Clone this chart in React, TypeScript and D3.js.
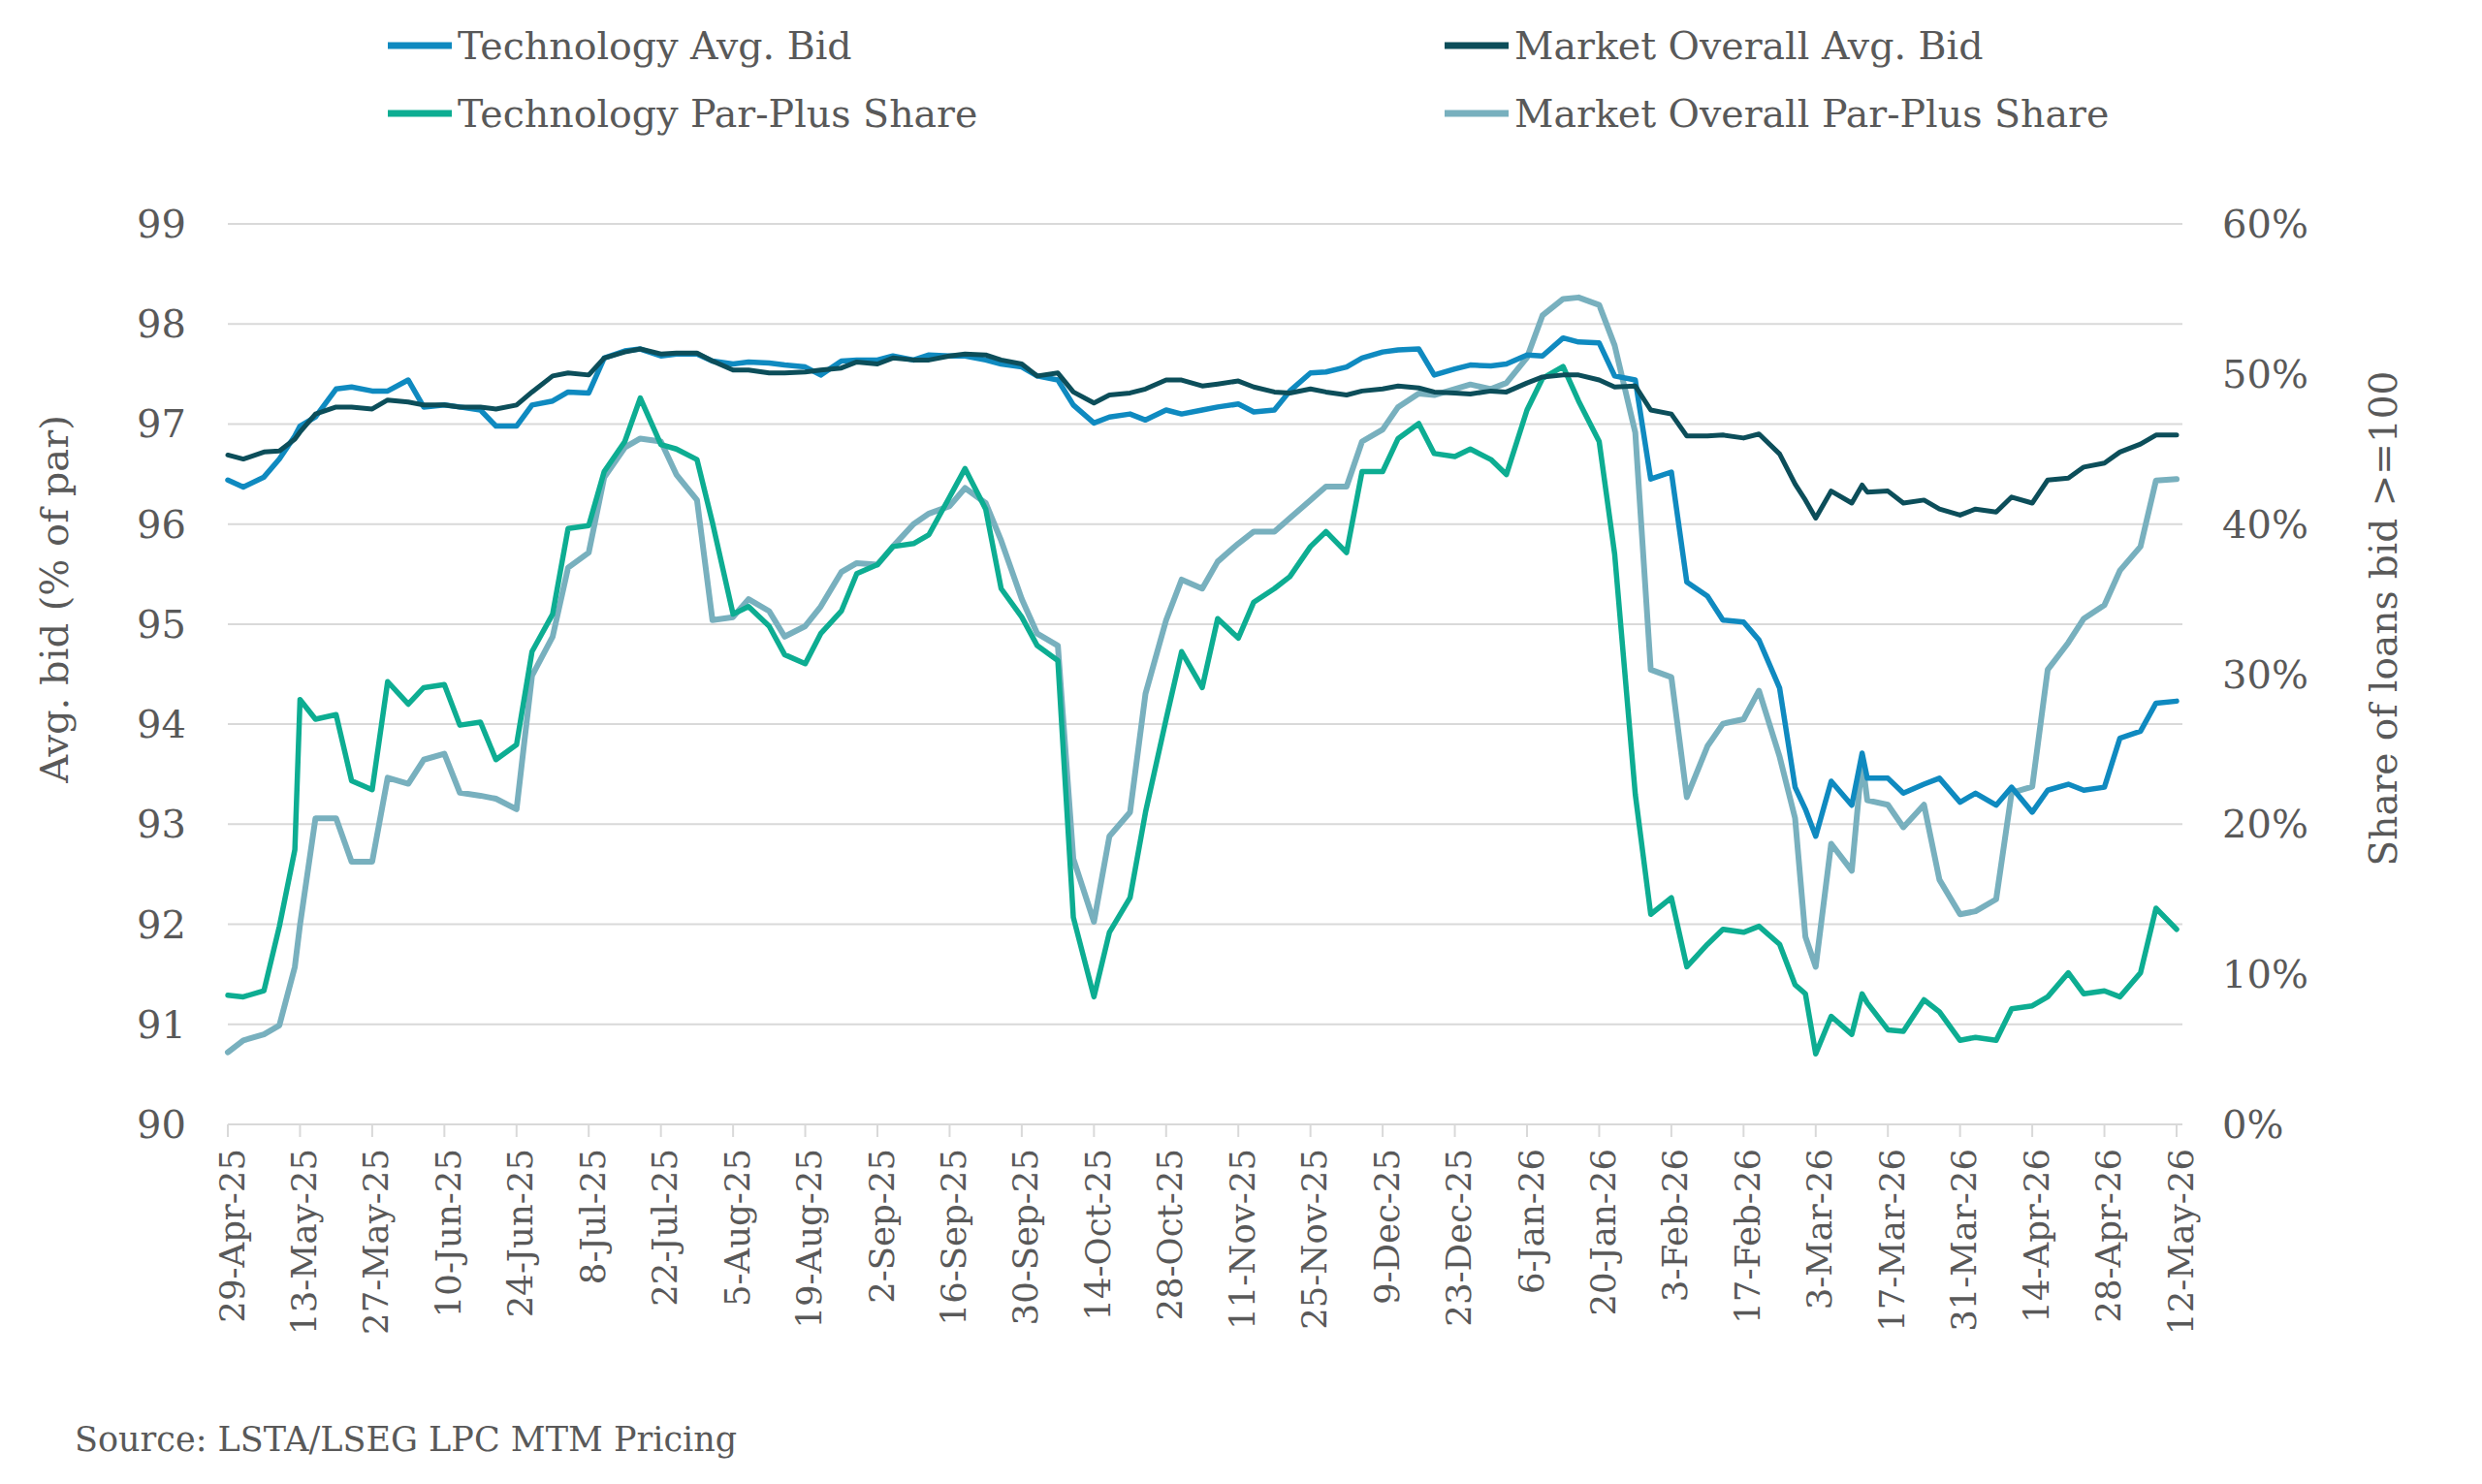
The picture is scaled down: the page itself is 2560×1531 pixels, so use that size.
import React from "react";
import * as d3 from "d3";

// day offsets from 29-Apr-25 for every sampled observation
const days = [
  0, 3, 7, 10, 13, 14, 17, 21, 24, 28, 31, 35, 38, 42, 45, 49, 52, 56, 59, 63,
  66, 70, 73, 77, 80, 84, 87, 91, 94, 98, 101, 105, 108, 112, 115, 119, 122, 126,
  129, 133, 136, 140, 143, 147, 150, 154, 157, 161, 164, 168, 171, 175, 178, 182,
  185, 189, 192, 196, 199, 203, 206, 210, 213, 217, 220, 224, 227, 231, 234, 238,
  241, 245, 248, 252, 255, 259, 262, 266, 269, 273, 276, 280, 283, 287, 290, 294,
  297, 301, 304, 306, 308, 311, 315, 317, 318, 322, 325, 329, 332, 336, 339, 343,
  346, 350, 353, 357, 360, 364, 367, 371, 374, 378,
];

// Avg. bid, % of par (left axis)
const techBid = [
  96.44, 96.37, 96.47, 96.65, 96.88, 96.98, 97.07, 97.35, 97.37, 97.33, 97.33, 97.44, 97.17, 97.19, 97.17, 97.14, 96.98, 96.98, 97.19, 97.23,
  97.32, 97.31, 97.66, 97.73, 97.75, 97.68, 97.7, 97.7, 97.63, 97.6, 97.62, 97.61, 97.59, 97.57, 97.49, 97.63, 97.64, 97.64,
  97.68, 97.64, 97.69, 97.68, 97.68, 97.64, 97.6, 97.57, 97.48, 97.44, 97.19, 97.01, 97.07, 97.1, 97.04, 97.14,
  97.1, 97.14, 97.17, 97.2, 97.12, 97.14, 97.33, 97.51, 97.52, 97.57, 97.66, 97.72, 97.74, 97.75, 97.49, 97.55,
  97.59, 97.58, 97.6, 97.69, 97.68, 97.86, 97.82, 97.81, 97.48, 97.44, 96.45, 96.52, 95.42, 95.28, 95.04, 95.02,
  94.84, 94.36, 93.37, 93.15, 92.88, 93.43, 93.19, 93.71, 93.46, 93.46, 93.31, 93.4, 93.46, 93.22, 93.31, 93.19,
  93.37, 93.12, 93.34, 93.4, 93.34, 93.37, 93.86, 93.93, 94.21, 94.23,
];

const marketBid = [
  96.69, 96.65, 96.72, 96.73, 96.85, 96.92, 97.1, 97.17, 97.17, 97.15, 97.24, 97.22, 97.19, 97.19, 97.17, 97.17, 97.15, 97.19, 97.32, 97.48,
  97.51, 97.49, 97.66, 97.72, 97.75, 97.7, 97.71, 97.71, 97.63, 97.54, 97.54, 97.51, 97.51, 97.52, 97.54, 97.56, 97.62, 97.6,
  97.66, 97.64, 97.64, 97.68, 97.7, 97.69, 97.64, 97.6, 97.48, 97.51, 97.32, 97.21, 97.29, 97.31, 97.35, 97.44,
  97.44, 97.38, 97.4, 97.43, 97.37, 97.32, 97.31, 97.35, 97.32, 97.29, 97.33, 97.35, 97.38, 97.36, 97.32, 97.31,
  97.3, 97.33, 97.32, 97.41, 97.47, 97.49, 97.49, 97.44, 97.37, 97.38, 97.14, 97.1, 96.88, 96.88, 96.89, 96.86,
  96.9, 96.7, 96.4, 96.24, 96.06, 96.33, 96.21, 96.39, 96.32, 96.33, 96.21, 96.24, 96.15, 96.09, 96.15, 96.12,
  96.27, 96.21, 96.44, 96.46, 96.57, 96.61, 96.72, 96.8, 96.89, 96.89,
];

// Share of loans bid >= 100, % (right axis)
const techShare = [
  8.6, 8.5, 8.9, 13.2, 18.3, 28.3, 27.0, 27.3, 22.9, 22.3, 29.5, 28.0, 29.1, 29.3, 26.6, 26.8, 24.3, 25.3, 31.5, 34.0,
  39.7, 39.9, 43.5, 45.5, 48.4, 45.3, 45.0, 44.3, 40.1, 34.0, 34.5, 33.2, 31.3, 30.7, 32.7, 34.2, 36.7, 37.3,
  38.5, 38.7, 39.3, 41.8, 43.7, 41.0, 35.7, 33.8, 31.9, 30.9, 13.8, 8.5, 12.8, 15.1, 20.8, 27.0,
  31.5, 29.1, 33.7, 32.4, 34.8, 35.7, 36.5, 38.5, 39.5, 38.1, 43.5, 43.5, 45.7, 46.7, 44.7, 44.5,
  45.0, 44.3, 43.3, 47.6, 49.7, 50.5, 48.2, 45.5, 38.0, 22.0, 14.0, 15.1, 10.5, 12.0, 13.0, 12.8,
  13.2, 12.0, 9.3, 8.7, 4.7, 7.2, 6.0, 8.7, 8.1, 6.3, 6.2, 8.3, 7.5, 5.6, 5.8, 5.6,
  7.7, 7.9, 8.5, 10.1, 8.7, 8.9, 8.5, 10.1, 14.4, 13.0,
];

const marketShare = [
  4.8, 5.6, 6.0, 6.6, 10.5, 13.3, 20.4, 20.4, 17.5, 17.5, 23.1, 22.7, 24.3, 24.7, 22.1, 21.9, 21.7, 21.0, 29.9, 32.5,
  37.1, 38.1, 43.1, 45.1, 45.7, 45.5, 43.3, 41.6, 33.6, 33.8, 35.0, 34.2, 32.5, 33.2, 34.5, 36.8, 37.4, 37.3,
  38.5, 40.0, 40.7, 41.2, 42.4, 41.4, 38.9, 35.0, 32.7, 31.9, 17.7, 13.5, 19.2, 20.8, 28.7, 33.6,
  36.3, 35.7, 37.5, 38.7, 39.5, 39.5, 40.4, 41.6, 42.5, 42.5, 45.5, 46.3, 47.8, 48.7, 48.6, 49.0,
  49.3, 49.0, 49.4, 51.1, 53.9, 55.0, 55.1, 54.6, 51.9, 46.1, 30.3, 29.8, 21.8, 25.2, 26.7, 27.0,
  28.9, 24.5, 20.4, 12.5, 10.5, 18.7, 16.9, 24.3, 21.6, 21.3, 19.8, 21.3, 16.3, 14.0, 14.2, 15.0,
  22.1, 22.5, 30.3, 32.1, 33.7, 34.6, 36.9, 38.5, 42.9, 43.0,
];

const dateTicks = [
  "29-Apr-25", "13-May-25", "27-May-25", "10-Jun-25", "24-Jun-25", "8-Jul-25", "22-Jul-25",
  "5-Aug-25", "19-Aug-25", "2-Sep-25", "16-Sep-25", "30-Sep-25", "14-Oct-25", "28-Oct-25",
  "11-Nov-25", "25-Nov-25", "9-Dec-25", "23-Dec-25", "6-Jan-26", "20-Jan-26", "3-Feb-26",
  "17-Feb-26", "3-Mar-26", "17-Mar-26", "31-Mar-26", "14-Apr-26", "28-Apr-26", "12-May-26",
];
const bidTicks = [90, 91, 92, 93, 94, 95, 96, 97, 98, 99];
const shareTicks = [0, 10, 20, 30, 40, 50, 60];

const W = 2560;
const H = 1531;
const left = 235;
const right = 2245;
const gridRight = 2251;
const top = 231;
const bottom = 1160;
const FONT = "'DejaVu Serif', Georgia, serif";
const TXT = "#595959";

const parse = d3.timeParse("%d-%b-%y");
const start = parse(dateTicks[0]) as Date;
const end = parse(dateTicks[dateTicks.length - 1]) as Date;
const dates = days.map((d) => d3.timeDay.offset(start, d));

const x = d3.scaleTime().domain([start, end]).range([left, right]);
const yL = d3.scaleLinear().domain([90, 99]).range([bottom, top]);
const yR = d3.scaleLinear().domain([0, 60]).range([bottom, top]);

const series = [
  { name: "Market Overall Par-Plus Share", values: marketShare, y: yR, color: "#78B0BE", w: 6 },
  { name: "Technology Par-Plus Share", values: techShare, y: yR, color: "#0DAD92", w: 5.5 },
  { name: "Technology Avg. Bid", values: techBid, y: yL, color: "#0F8AC0", w: 5.5 },
  { name: "Market Overall Avg. Bid", values: marketBid, y: yL, color: "#0C4E5A", w: 5 },
];

const legendItems = [
  { name: "Technology Avg. Bid", color: "#0F8AC0", lx: 400, ly: 47 },
  { name: "Market Overall Avg. Bid", color: "#0C4E5A", lx: 1490, ly: 47 },
  { name: "Technology Par-Plus Share", color: "#0DAD92", lx: 400, ly: 117 },
  { name: "Market Overall Par-Plus Share", color: "#78B0BE", lx: 1490, ly: 117 },
];

export default function App() {
  const path = (vals: number[], y: d3.ScaleLinear<number, number>) =>
    d3
      .line<number>()
      .x((_, i) => x(dates[i]))
      .y((v) => y(v))(vals) as string;

  return (
    <svg
      width={W}
      height={H}
      style={{ position: "absolute", left: 0, top: 0, background: "#fff" }}
      fontFamily={FONT}
    >
      {/* legend */}
      {legendItems.map((l) => (
        <g key={l.name}>
          <line x1={l.lx} x2={l.lx + 66} y1={l.ly} y2={l.ly} stroke={l.color} strokeWidth={7} />
          <text x={l.lx + 72} y={l.ly} dominantBaseline="central" fontSize={39.5} fill={TXT}>
            {l.name}
          </text>
        </g>
      ))}

      {/* gridlines */}
      {bidTicks.map((t) => (
        <line key={t} x1={left} x2={gridRight} y1={yL(t)} y2={yL(t)} stroke="#D9D9D9" strokeWidth={2} />
      ))}
      {dateTicks.map((t) => (
        <line
          key={t}
          x1={x(parse(t) as Date)}
          x2={x(parse(t) as Date)}
          y1={bottom}
          y2={bottom + 13}
          stroke="#D9D9D9"
          strokeWidth={2}
        />
      ))}

      {/* left axis */}
      {bidTicks.map((t) => (
        <text key={t} x={192} y={yL(t)} textAnchor="end" dominantBaseline="central" fontSize={40} fill={TXT}>
          {t}
        </text>
      ))}
      <text
        transform={`translate(56,618) rotate(-90)`}
        textAnchor="middle"
        dominantBaseline="central"
        fontSize={40}
        fill={TXT}
      >
        Avg. bid (% of par)
      </text>

      {/* right axis */}
      {shareTicks.map((t) => (
        <text key={t} x={2292} y={yR(t)} dominantBaseline="central" fontSize={40} fill={TXT}>
          {`${t}%`}
        </text>
      ))}
      <text
        transform={`translate(2458,638) rotate(-90)`}
        textAnchor="middle"
        dominantBaseline="central"
        fontSize={39}
        fill={TXT}
      >
        {"Share of loans bid >=100"}
      </text>

      {/* x tick labels */}
      {dateTicks.map((t) => (
        <text
          key={t}
          transform={`translate(${x(parse(t) as Date) + 4},1185) rotate(-90)`}
          textAnchor="end"
          dominantBaseline="central"
          fontSize={35.5}
          fill={TXT}
        >
          {t}
        </text>
      ))}

      {/* lines */}
      {series.map((s) => (
        <path
          key={s.name}
          d={path(s.values, s.y)}
          fill="none"
          stroke={s.color}
          strokeWidth={s.w}
          strokeLinejoin="round"
          strokeLinecap="round"
        />
      ))}

      <text x={77} y={1497} fontSize={35} fill={TXT}>
        Source: LSTA/LSEG LPC MTM Pricing
      </text>
    </svg>
  );
}
